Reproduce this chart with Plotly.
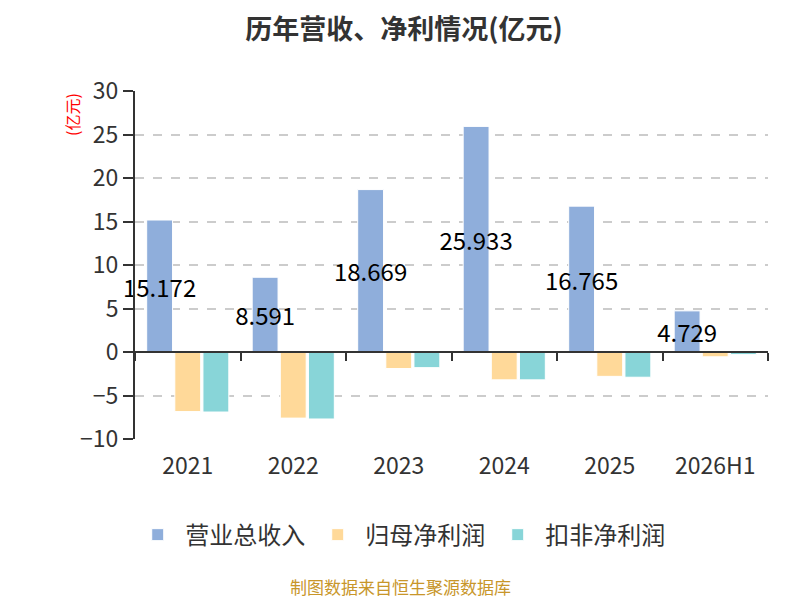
import plotly.graph_objects as go

years = ["2021", "2022", "2023", "2024", "2025", "2026H1"]
revenue = [15.172, 8.591, 18.669, 25.933, 16.765, 4.729]
net_profit = [-6.85, -7.6, -1.9, -3.2, -2.8, -0.55]
net_profit_deducted = [-6.9, -7.7, -1.8, -3.2, -2.9, -0.3]

font_family = "Noto Sans CJK SC"

fig = go.Figure()
fig.add_trace(go.Bar(
    x=years, y=revenue, name="营业总收入",
    marker=dict(color="#8faedb", line=dict(color="#ffffff", width=1)),
    text=[f"{v:.3f}" for v in revenue], textposition="inside", textangle=0,
    insidetextanchor="middle", constraintext="none",
    textfont=dict(color="#000000", size=24, family=font_family),
    cliponaxis=False,
))
fig.add_trace(go.Bar(
    x=years, y=net_profit, name="归母净利润",
    marker=dict(color="#ffd999", line=dict(color="#ffffff", width=1)),
))
fig.add_trace(go.Bar(
    x=years, y=net_profit_deducted, name="扣非净利润",
    marker=dict(color="#88d5d8", line=dict(color="#ffffff", width=1)),
))

# page has an 8px body margin, so the figure is 792x592
fig.update_layout(
    width=792, height=592,
    margin=dict(l=127, r=32, t=83, b=161),
    paper_bgcolor="#ffffff", plot_bgcolor="#ffffff",
    font=dict(family=font_family, color="#333333"),
    barmode="group", bargap=0.2, bargroupgap=0.08,
    title=dict(text="<b>历年营收、净利情况(亿元)</b>", x=0.5, xanchor="center",
               y=0.964, yanchor="middle", font=dict(size=27, color="#333333")),
    showlegend=True,
    legend=dict(orientation="h", x=0.419, xanchor="center", y=-0.276, yanchor="middle",
                font=dict(size=24, color="#333333"), itemwidth=45),
    xaxis=dict(type="category", categoryarray=years, range=[-0.5, 5.5],
               showline=False, showgrid=False, zeroline=False, ticks="",
               tickfont=dict(size=23, color="#333333"), ticklabelstandoff=11),
    xaxis2=dict(type="category", categoryarray=years, range=[-0.5, 5.5],
                overlaying="x", anchor="free", position=0.25, side="bottom",
                showline=True, linecolor="#333333", linewidth=2,
                ticks="outside", tickson="boundaries", ticklen=8, tickwidth=2,
                tickcolor="#333333", showticklabels=False, showgrid=False, zeroline=False),
    yaxis=dict(range=[-10, 30], dtick=5, tick0=-10,
               showline=True, linecolor="#333333", linewidth=2,
               ticks="outside", ticklen=10, tickwidth=2, tickcolor="#333333",
               tickfont=dict(size=23, color="#333333"),
               showgrid=True, gridcolor="#cccccc", griddash="dash", gridwidth=1.5,
               zeroline=False),
    annotations=[
        dict(text="(亿元)", xref="paper", yref="paper", x=-0.0995, y=0.931,
             xanchor="center", yanchor="middle",
             showarrow=False, textangle=-90, font=dict(size=16, color="#ff0000")),
        dict(text="制图数据来自恒生聚源数据库", xref="paper", yref="paper", x=0.419, y=-0.425,
             xanchor="center", yanchor="middle",
             showarrow=False, font=dict(size=17, color="#c8962a")),
    ],
)
# invisible trace so the boundary-tick axis at y=0 is drawn
fig.add_trace(go.Scatter(x=years, y=[0] * len(years), xaxis="x2", mode="lines",
                         line=dict(color="rgba(0,0,0,0)"), showlegend=False, hoverinfo="skip"))

fig.write_html("out.html")
